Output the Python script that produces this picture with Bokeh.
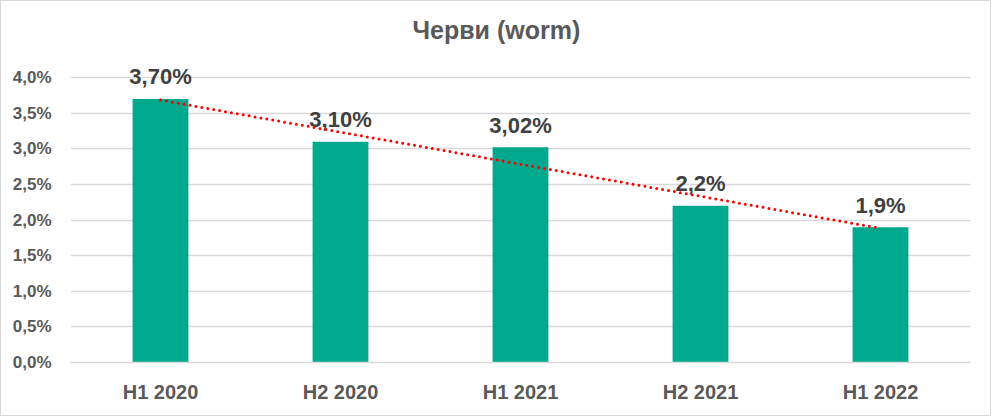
import numpy as np
from bokeh.plotting import figure
from bokeh.models import FactorRange, Range1d, FixedTicker, ColumnDataSource
from bokeh.core.properties import value
from bokeh.embed import file_html
from bokeh.resources import INLINE

# ---- data ----
categories = ["H1 2020", "H2 2020", "H1 2021", "H2 2021", "H1 2022"]
values = [3.70, 3.10, 3.02, 2.2, 1.9]          # percent
value_labels = ["3,70%", "3,10%", "3,02%", "2,2%", "1,9%"]
y_ticks = [0.0, 0.5, 1.0, 1.5, 2.0, 2.5, 3.0, 3.5, 4.0]
y_tick_labels = ["0,0%", "0,5%", "1,0%", "1,5%", "2,0%", "2,5%", "3,0%", "3,5%", "4,0%"]
title_text = "Черви (worm)"

FONT = "Liberation Sans"

# y range extends a little above the last grid line (4,0%) so that the
# value labels are not clipped by the frame
p = figure(
    width=991, height=416,
    x_range=FactorRange(factors=categories),
    y_range=Range1d(0, 4.45),
    output_backend="svg", toolbar_location=None,
    min_border_left=69, min_border_right=22, min_border_top=44, min_border_bottom=55,
)
p.styles = {"border": "1px solid #D9D9D9"}
p.outline_line_color = None
p.background_fill_color = "white"
p.border_fill_color = "white"

# title
p.title.text = title_text
p.title.align = "left"
p.title.text_font = FONT
p.title.text_font_size = "25px"
p.title.text_font_style = "bold"
p.title.text_color = "#595959"
p.title.standoff = 3
p.title.offset = 342

# bars
src = ColumnDataSource(dict(x=categories, top=values, label=value_labels))
p.vbar(x="x", top="top", width=0.31, source=src, fill_color="#00A88E", line_color=None)

# value labels
p.text(x="x", y="top", text="label", source=src,
       text_font=value(FONT), text_font_size="22px", text_font_style="bold",
       text_color="#404040", text_align="center", text_baseline="alphabetic",
       y_offset=-22)

# linear trendline
xi = np.arange(1, len(values) + 1)
slope, intercept = np.polyfit(xi, values, 1)
trend = [slope * xi[0] + intercept, slope * xi[-1] + intercept]
p.line(x=[categories[0], categories[-1]], y=trend, line_color="#FF0000",
       line_width=3, line_dash="0 6", line_cap="round")

# grid
p.xgrid.grid_line_color = None
p.ygrid.ticker = FixedTicker(ticks=y_ticks)
p.ygrid.grid_line_color = "#D9D9D9"
p.ygrid.grid_line_width = 1.5

# y axis
p.yaxis.ticker = FixedTicker(ticks=y_ticks)
p.yaxis.major_label_overrides = {t: l for t, l in zip(y_ticks, y_tick_labels)}
p.yaxis.axis_line_color = None
p.yaxis.major_tick_line_color = None
p.yaxis.minor_tick_line_color = None
p.yaxis.major_label_text_font = FONT
p.yaxis.major_label_text_font_size = "17px"
p.yaxis.major_label_text_font_style = "bold"
p.yaxis.major_label_text_color = "#595959"
p.yaxis.major_label_standoff = 13

# x axis
p.xaxis.axis_line_color = "#D9D9D9"
p.xaxis.axis_line_width = 1.5
p.xaxis.major_tick_line_color = None
p.xaxis.minor_tick_line_color = None
p.xaxis.major_label_text_font = FONT
p.xaxis.major_label_text_font_size = "20px"
p.xaxis.major_label_text_font_style = "bold"
p.xaxis.major_label_text_color = "#595959"
p.xaxis.major_label_standoff = 12

open("out.html", "w").write(file_html(p, INLINE))
